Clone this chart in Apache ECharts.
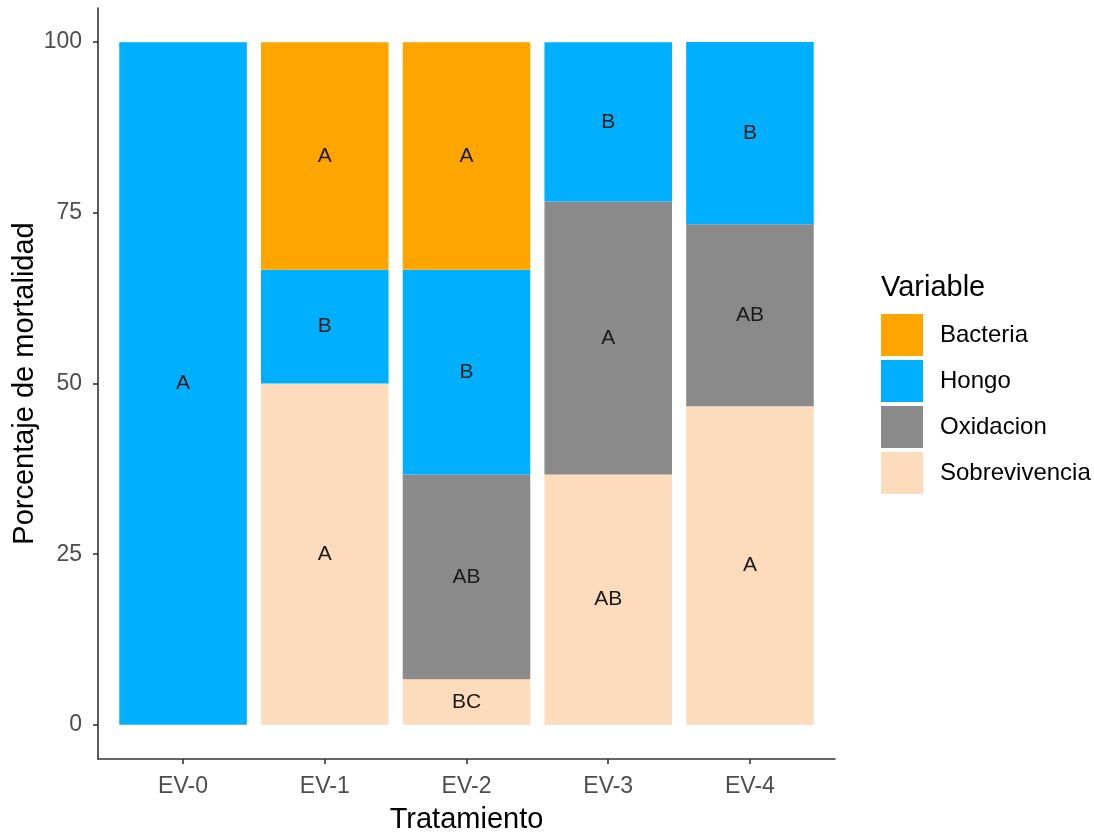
<!DOCTYPE html>
<html>
<head>
<meta charset="utf-8">
<script src="https://cdn.jsdelivr.net/npm/echarts@6/dist/echarts.min.js"></script>
<style>
  html, body { margin: 0; padding: 0; background: #ffffff; }
  #chart { width: 1094px; height: 832px; }
</style>
</head>
<body>
<div id="chart"></div>
<script>
// Treatments on the x axis
const categories = ['EV-0', 'EV-1', 'EV-2', 'EV-3', 'EV-4'];

// Percentage of each outcome per treatment (stacked bottom to top)
const sobrevivencia = [0, 50, 6.67, 36.67, 46.67];
const oxidacion     = [0, 0, 30, 40, 26.67];
const hongo         = [100, 16.67, 30, 23.33, 26.67];
const bacteria      = [0, 33.33, 33.33, 0, 0];

// Significance letters shown inside each segment
const sobrevivenciaLetters = ['', 'A', 'BC', 'AB', 'A'];
const oxidacionLetters     = ['', '', 'AB', 'A', 'AB'];
const hongoLetters         = ['A', 'B', 'B', 'B', 'B'];
const bacteriaLetters      = ['', 'A', 'A', '', ''];

const yTicks = [0, 25, 50, 75, 100];

const FONT = '"Liberation Sans", Arial, sans-serif';
const BAR_WIDTH = 0.9; // in category units
const chart = echarts.init(document.getElementById('chart'));

// Stack layers in drawing order (bottom first)
const layers = [
  { name: 'Sobrevivencia', values: sobrevivencia, letters: sobrevivenciaLetters, color: '#fcdcbd' },
  { name: 'Oxidacion',     values: oxidacion,     letters: oxidacionLetters,     color: '#8a8a8a' },
  { name: 'Hongo',         values: hongo,         letters: hongoLetters,         color: '#00b0ff' },
  { name: 'Bacteria',      values: bacteria,      letters: bacteriaLetters,      color: '#ffa500' }
];

const base = categories.map(() => 0);
const series = layers.map(layer => {
  const data = [];
  layer.values.forEach((v, i) => {
    if (v > 0) data.push([i + 1, base[i], base[i] + v, layer.letters[i]]);
    base[i] += v;
  });
  return {
    name: layer.name,
    type: 'custom',
    itemStyle: { color: layer.color },
    encode: { x: 0, y: [1, 2] },
    data: data,
    renderItem: (params, api) => {
      const x = api.value(0);
      const p0 = api.coord([x - BAR_WIDTH / 2, api.value(1)]);
      const p1 = api.coord([x + BAR_WIDTH / 2, api.value(2)]);
      return {
        type: 'rect',
        shape: { x: p0[0], y: p1[1], width: p1[0] - p0[0], height: p0[1] - p1[1] },
        style: { fill: layer.color },
        textContent: {
          style: {
            text: api.value(3),
            fill: '#1a1a1a',
            font: '21px ' + FONT
          }
        },
        textConfig: { position: 'inside' }
      };
    },
    emphasis: { disabled: true },
    animation: false
  };
});

const option = {
  backgroundColor: '#ffffff',
  animation: false,
  title: {
    text: 'Variable',
    left: 876,
    top: 268,
    textStyle: { fontFamily: FONT, fontSize: 29, fontWeight: 'normal', color: '#000000' }
  },
  legend: {
    orient: 'vertical',
    left: 881,
    top: 314,
    padding: 0,
    itemWidth: 42,
    itemHeight: 42,
    itemGap: 4,
    icon: 'rect',
    selectedMode: false,
    data: ['Bacteria', 'Hongo', 'Oxidacion', 'Sobrevivencia'],
    textStyle: { fontFamily: FONT, fontSize: 24, color: '#000000', padding: [0, 0, 0, 12] }
  },
  grid: { left: 98, right: 259, top: 8, bottom: 73, containLabel: false, outerBoundsMode: 'none' },
  xAxis: {
    type: 'value',
    min: 0.4,
    max: categories.length + 0.6,
    name: 'Tratamiento',
    nameLocation: 'middle',
    nameGap: 46,
    nameMoveOverlap: false,
    nameTextStyle: { fontFamily: FONT, fontSize: 29, color: '#000000' },
    splitLine: { show: false },
    axisLine: { show: true, onZero: false, lineStyle: { color: '#333333', width: 1.6 } },
    axisTick: { show: true, customValues: [1, 2, 3, 4, 5], length: 5, lineStyle: { color: '#333333', width: 1.6 } },
    axisLabel: {
      customValues: [1, 2, 3, 4, 5],
      formatter: v => categories[Math.round(v) - 1],
      fontFamily: FONT, fontSize: 23, color: '#4d4d4d', margin: 16
    }
  },
  yAxis: {
    type: 'value',
    min: -5,
    max: 105,
    name: 'Porcentaje de mortalidad',
    nameLocation: 'middle',
    nameGap: 59,
    nameMoveOverlap: false,
    nameTextStyle: { fontFamily: FONT, fontSize: 29, color: '#000000' },
    splitLine: { show: false },
    axisLine: { show: true, onZero: false, lineStyle: { color: '#333333', width: 1.6 } },
    axisTick: { show: true, customValues: yTicks, length: 5, lineStyle: { color: '#333333', width: 1.6 } },
    axisLabel: {
      customValues: yTicks,
      fontFamily: FONT, fontSize: 23, color: '#4d4d4d', margin: 16
    }
  },
  series: series
};

chart.setOption(option);
</script>
</body>
</html>
